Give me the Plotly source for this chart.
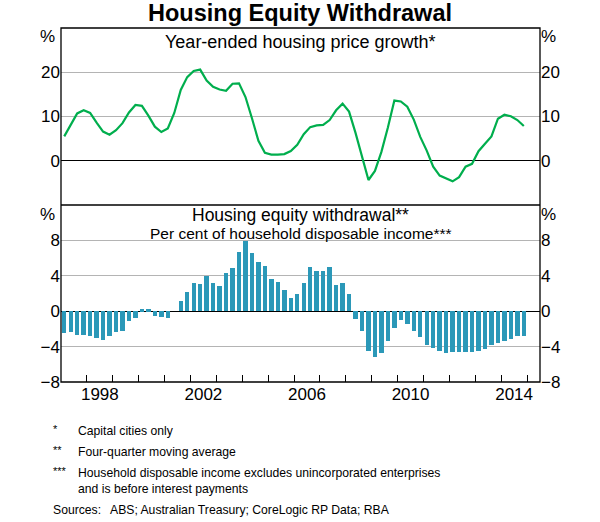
import plotly.graph_objects as go

# ---------------- data (quarterly, 1997Q1 - 2014Q4) ----------------
start_year = 1997
end_year = 2014

# Year-ended housing price growth (capital cities), per cent
price_growth = [
    5.5, 8.1, 10.7, 11.4,      # 1997
    10.8, 8.6, 6.6, 5.9,       # 1998
    6.9, 8.5, 10.9, 12.6,      # 1999
    12.4, 10.2, 7.7, 6.5,      # 2000
    7.3, 10.8, 16.0, 18.9,     # 2001
    20.3, 20.6, 18.1, 16.7,    # 2002
    16.1, 15.8, 17.4, 17.5,    # 2003
    14.4, 9.6, 4.5, 1.8,       # 2004
    1.4, 1.4, 1.5, 2.2,        # 2005
    3.6, 6.0, 7.6, 8.0,        # 2006
    8.1, 9.2, 11.4, 12.9,      # 2007
    11.1, 6.3, 1.2, -4.35,     # 2008
    -2.3, 2.0, 7.5, 13.6,      # 2009
    13.4, 12.2, 9.3, 5.4,      # 2010
    2.3, -1.35, -3.35, -4.0,   # 2011
    -4.65, -3.7, -1.35, -0.7,  # 2012
    2.15, 3.85, 5.5, 9.5,      # 2013
    10.4, 10.05, 9.2, 7.85,    # 2014
]

# Housing equity withdrawal, per cent of household disposable income
hew = [
    -2.5, -2.4, -2.7, -2.65,   # 1997
    -2.85, -3.0, -3.3, -2.85,  # 1998
    -2.4, -2.2, -1.1, -0.75,   # 1999
    0.22, 0.22, -0.52, -0.63,  # 2000
    -0.78, 0.0, 1.15, 2.2,     # 2001
    3.2, 3.1, 4.0, 3.2,        # 2002
    2.8, 4.35, 4.9, 6.7,       # 2003
    7.9, 6.55, 5.55, 5.1,      # 2004
    3.65, 3.35, 2.35, 1.45,    # 2005
    2.0, 3.2, 5.0, 4.55,       # 2006
    4.55, 5.0, 3.0, 3.2,       # 2007
    2.0, -0.9, -2.2, -4.5,     # 2008
    -5.2, -4.75, -3.4, -1.85,  # 2009
    -0.96, -1.5, -2.2, -2.96,  # 2010
    -3.85, -4.2, -4.55, -4.75, # 2011
    -4.65, -4.6, -4.65, -4.65, # 2012
    -4.45, -4.25, -3.85, -3.6, # 2013
    -3.4, -3.1, -2.85, -2.85,  # 2014
]

year_labels = [1998, 2002, 2006, 2010, 2014]
top_ticks = [0, 10, 20]
bottom_ticks = [-8, -4, 0, 4, 8]

footnotes = [
    ("*", "Capital cities only"),
    ("**", "Four-quarter moving average"),
    ("***", "Household disposable income excludes unincorporated enterprises<br>and is before interest payments"),
]
sources = "ABS; Australian Treasury; CoreLogic RP Data; RBA"

# ---------------- build ----------------
# quarter mid-points in fractional years
xq = []
for yr in range(start_year, end_year + 1):
    for q in range(4):
        xq.append(yr + q / 4 + 0.125)

FONT = "Liberation Sans, Arial, sans-serif"
GREEN = "#00AE4D"
TEAL = "#2B98B8"
GRID = "#B4B4B4"
XR = [1997, 2015.5]

fig = go.Figure()

fig.add_trace(go.Bar(
    x=xq, y=hew, width=0.17, marker=dict(color=TEAL, line=dict(width=0)),
    xaxis="x", yaxis="y2", showlegend=False,
))
fig.add_trace(go.Scatter(
    x=xq, y=price_growth, mode="lines", line=dict(color=GREEN, width=2.2),
    xaxis="x2", yaxis="y", showlegend=False,
))
# invisible traces to activate the right-hand axes
fig.add_trace(go.Scatter(x=xq, y=price_growth, mode="lines", opacity=0,
                         xaxis="x2", yaxis="y3", showlegend=False, hoverinfo="skip"))
fig.add_trace(go.Scatter(x=xq, y=hew, mode="lines", opacity=0,
                         xaxis="x", yaxis="y4", showlegend=False, hoverinfo="skip"))

tickfont = dict(family=FONT, size=17, color="black")

fig.update_layout(
    width=600, height=522,
    margin=dict(l=61, r=60, t=28, b=140),
    paper_bgcolor="white", plot_bgcolor="white",
    bargap=0,
    font=dict(family=FONT, color="black"),
    title=dict(text="Housing Equity Withdrawal",
               x=0.5, xanchor="center", y=0.975, yanchor="middle",
               font=dict(family=FONT, size=23.5, color="black", weight="bold")),
    xaxis=dict(
        domain=[0, 1], range=XR, anchor="y2",
        tickmode="array", tickvals=[y + 0.5 for y in year_labels],
        ticktext=[str(y) for y in year_labels], ticks="",
        tickfont=tickfont, showgrid=False, zeroline=False, showline=False,
        minor=dict(tickmode="array", tickvals=list(range(1998, 2016)),
                   ticks="inside", ticklen=7, tickwidth=1.2, tickcolor="black",
                   showgrid=False),
    ),
    xaxis2=dict(
        domain=[0, 1], range=XR, anchor="y", showticklabels=False,
        ticks="", showgrid=False, zeroline=False, showline=False,
    ),
    yaxis=dict(
        domain=[0.5, 1], range=[-10, 30], anchor="x2",
        tickmode="array", tickvals=top_ticks, ticks="",
        tickfont=tickfont, showgrid=True, gridcolor=GRID, gridwidth=1,
        zeroline=True, zerolinecolor="black", zerolinewidth=1.3, showline=False,
    ),
    yaxis3=dict(
        overlaying="y", side="right", range=[-10, 30], anchor="x2",
        tickmode="array", tickvals=top_ticks, ticks="",
        tickfont=tickfont, showgrid=False, zeroline=False, showline=False,
    ),
    yaxis2=dict(
        domain=[0, 0.5], range=[-8, 12], anchor="x",
        tickmode="array", tickvals=bottom_ticks, ticks="",
        tickfont=tickfont, showgrid=True, gridcolor=GRID, gridwidth=1,
        zeroline=True, zerolinecolor="black", zerolinewidth=1.3, showline=False,
    ),
    yaxis4=dict(
        overlaying="y2", side="right", range=[-8, 12], anchor="x",
        tickmode="array", tickvals=bottom_ticks, ticks="",
        tickfont=tickfont, showgrid=False, zeroline=False, showline=False,
    ),
)

# frame and panel separator
fig.add_shape(type="rect", xref="paper", yref="paper", x0=0, x1=1, y0=0, y1=1,
              line=dict(color="black", width=1.3), layer="above")
fig.add_shape(type="line", xref="paper", yref="paper", x0=0, x1=1, y0=0.5, y1=0.5,
              line=dict(color="black", width=1.3), layer="above")

ann = []
# panel titles
ann.append(dict(text="Year-ended housing price growth*", x=0.5, y=0.9613,
                xref="paper", yref="paper", showarrow=False,
                font=dict(size=18), xanchor="center", yanchor="middle"))
ann.append(dict(text="Housing equity withdrawal**", x=0.5, y=0.4718,
                xref="paper", yref="paper", showarrow=False,
                font=dict(size=17.5), xanchor="center", yanchor="middle"))
ann.append(dict(text="Per cent of household disposable income***", x=0.5, y=0.4209,
                xref="paper", yref="paper", showarrow=False,
                font=dict(size=15.5), xanchor="center", yanchor="middle"))
# % unit labels
for yy in (0.9774, 0.4718):
    ann.append(dict(text="%", x=-0.0285, y=yy, xref="paper", yref="paper",
                    showarrow=False, font=dict(size=17), xanchor="center", yanchor="middle"))
    ann.append(dict(text="%", x=1.0177, y=yy, xref="paper", yref="paper",
                    showarrow=False, font=dict(size=17), xanchor="center", yanchor="middle"))

# footnotes
fy = [-0.1376, -0.1969, -0.2562]
for (mark, txt), yy in zip(footnotes, fy):
    ann.append(dict(text=mark, x=-0.0209, y=yy + 0.004, xref="paper", yref="paper",
                    showarrow=False, font=dict(size=11), xanchor="left", yanchor="middle"))
    ann.append(dict(text=txt, x=0.0313, y=yy, xref="paper", yref="paper",
                    showarrow=False, font=dict(size=12.2), xanchor="left",
                    yanchor="top" if "<br>" in txt else "middle", align="left",
                    yshift=9 if "<br>" in txt else 0))
ann.append(dict(text="Sources:", x=-0.0215, y=-0.3616, xref="paper", yref="paper",
                showarrow=False, font=dict(size=12.2), xanchor="left", yanchor="middle"))
ann.append(dict(text=sources, x=0.0975, y=-0.3616, xref="paper", yref="paper",
                showarrow=False, font=dict(size=12.2), xanchor="left", yanchor="middle"))

fig.update_layout(annotations=ann)

fig.write_html("out.html", config={"displayModeBar": False},
               post_script="document.body.style.margin='0';document.body.style.padding='0';")
